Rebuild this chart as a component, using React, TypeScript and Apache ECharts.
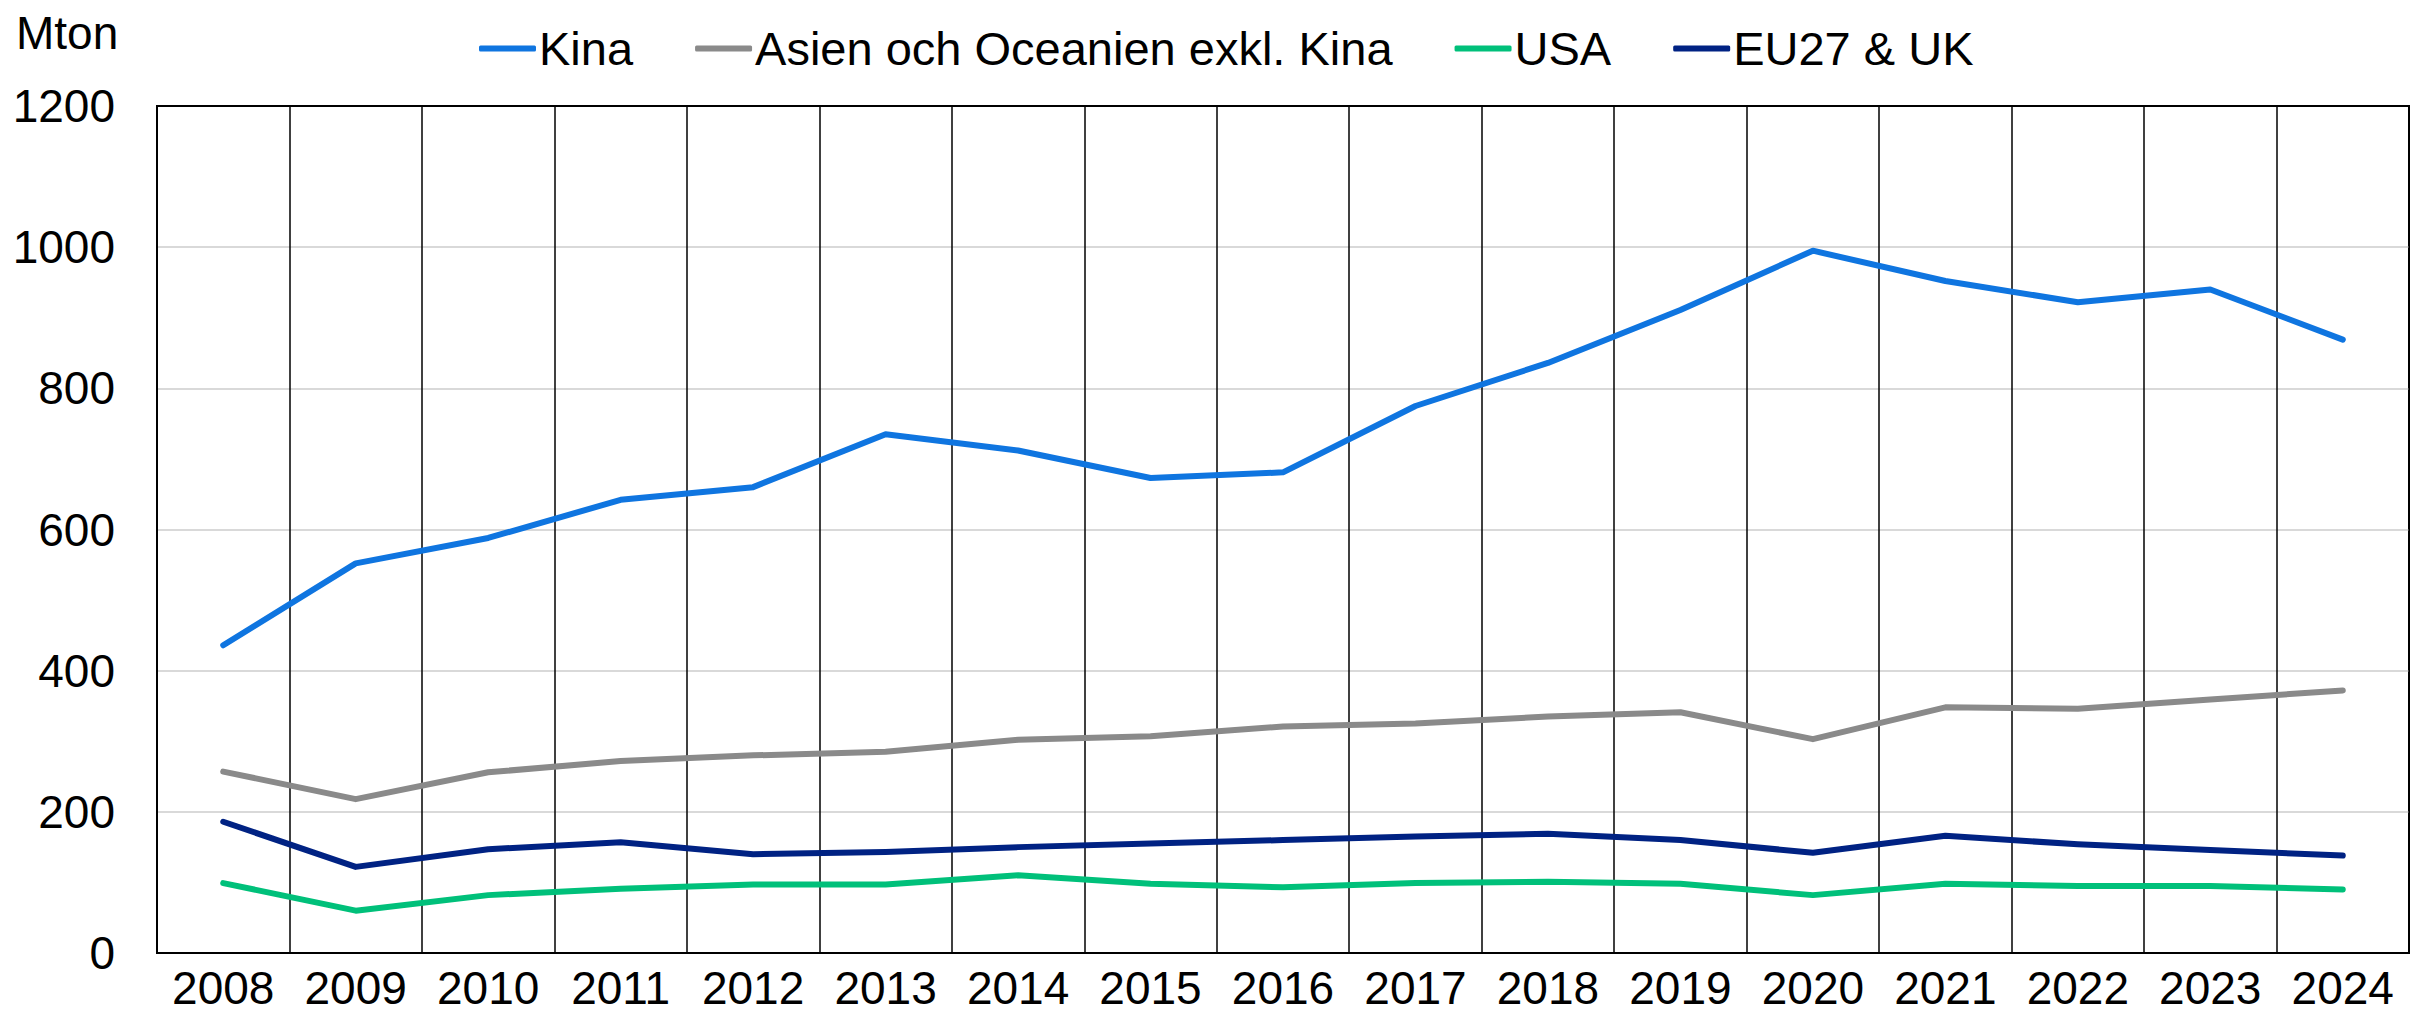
import React, { useEffect, useRef } from "react";
import * as echarts from "echarts";

const years = ["2008","2009","2010","2011","2012","2013","2014","2015","2016","2017","2018","2019","2020","2021","2022","2023","2024"];
const kina = [436, 552, 588, 642, 660, 735, 712, 673, 681, 775, 836, 911, 995, 952, 922, 940, 869];
const asien = [257, 218, 256, 272, 280, 285, 302, 307, 321, 325, 335, 341, 303, 348, 346, 359, 372];
const usa = [99, 60, 82, 91, 97, 97, 110, 98, 93, 99, 101, 98, 82, 98, 95, 95, 90];
const eu = [186, 122, 147, 157, 140, 143, 150, 155, 160, 165, 169, 160, 142, 166, 154, 146, 138];
const seriesNames = ["Kina", "Asien och Oceanien exkl. Kina", "USA", "EU27 & UK"];
const colors = ["#0F75E0", "#8A8A8A", "#00C07A", "#002283"];
const yTicks = { min: 0, max: 1200, interval: 200 };
const unitLabel = "Mton";

const FONT = "'Liberation Sans', Arial, sans-serif";

export default function App() {
  const ref = useRef<HTMLDivElement>(null);
  useEffect(() => {
    document.body.style.margin = "0";
    const chart = echarts.init(ref.current!, null, { renderer: "svg" });
    const data = [kina, asien, usa, eu];
    chart.setOption({
      animation: false,
      backgroundColor: "#ffffff",
      textStyle: { fontFamily: FONT },
      legend: {
        top: 20,
        left: 474,
        icon: "roundRect",
        itemWidth: 57,
        itemHeight: 6,
        itemGap: 62,
        textStyle: { fontSize: 47, color: "#000", fontFamily: FONT, padding: [0, 0, 0, -2] },
        data: seriesNames,
      },
      grid: {
        left: 157,
        right: 4,
        top: 106,
        bottom: 64,
        show: true,
        borderColor: "#000",
        borderWidth: 2,
        containLabel: false,
      },
      graphic: [
        {
          type: "text",
          left: 16,
          top: 10,
          style: { text: unitLabel, fontSize: 46, fill: "#000", fontFamily: FONT },
        },
      ],
      xAxis: {
        type: "category",
        data: years,
        boundaryGap: true,
        axisLine: { lineStyle: { color: "#000", width: 2 } },
        axisTick: { show: false },
        axisLabel: { interval: 0, fontSize: 46, lineHeight: 40, color: "#000", margin: 15, fontFamily: FONT },
        splitLine: { show: true, interval: 0, lineStyle: { color: "#000", width: 1.5 } },
      },
      yAxis: {
        type: "value",
        min: yTicks.min,
        max: yTicks.max,
        interval: yTicks.interval,
        axisLine: { show: true, lineStyle: { color: "#000", width: 2 } },
        axisTick: { show: false },
        axisLabel: {
          fontSize: 46,
          color: "#000",
          margin: 42,
          fontFamily: FONT,
          formatter: (v: number) => String(v),
        },
        splitLine: { show: true, showMinLine: false, showMaxLine: false, lineStyle: { color: "#D9D9D9", width: 2 } },
      },
      series: seriesNames.map((name, i) => ({
        name,
        type: "line",
        data: data[i],
        symbol: "none",
        color: colors[i],
        lineStyle: { width: 6, color: colors[i], cap: "round", join: "round" },
        z: 10 - i,
      })),
    });
    return () => chart.dispose();
  }, []);
  return <div ref={ref} style={{ width: 2413, height: 1017 }} />;
}
